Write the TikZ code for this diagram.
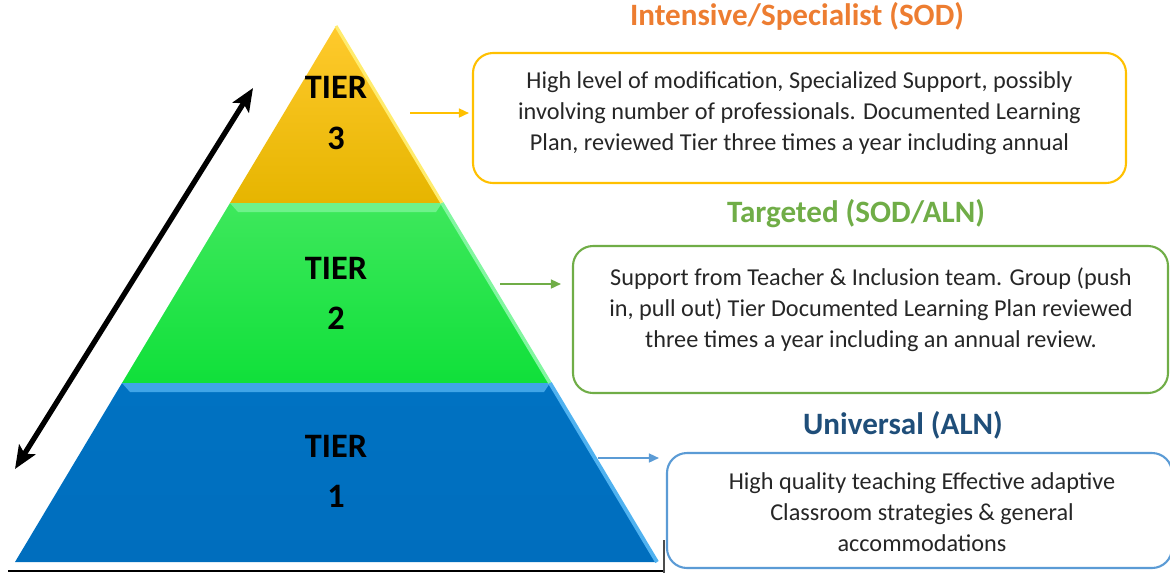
\documentclass[tikz,border=0pt]{standalone}
\usepackage{fontspec}
\setmainfont{Carlito}
\usetikzlibrary{arrows.meta}

\definecolor{goldtop}{RGB}{255,202,45}
\definecolor{goldbot}{RGB}{230,181,0}
\definecolor{goldedge}{RGB}{255,236,110}
\definecolor{goldline}{RGB}{255,192,0}
\definecolor{greentop}{RGB}{62,232,92}
\definecolor{greenbot}{RGB}{16,224,58}
\definecolor{greenedge}{RGB}{130,246,160}
\definecolor{greenline}{RGB}{112,173,71}
\definecolor{bluetop}{RGB}{0,114,194}
\definecolor{bluebot}{RGB}{0,110,190}
\definecolor{blueedge}{RGB}{80,178,240}
\definecolor{blueline}{RGB}{91,155,213}
\definecolor{headorange}{RGB}{237,125,49}
\definecolor{headblue}{RGB}{31,78,121}
\definecolor{baseline}{RGB}{140,28,50}

\tikzset{
  tierlabel/.style={font=\bfseries\fontsize{19.5}{28.5}\selectfont, align=center},
  headline/.style={font=\bfseries\fontsize{17.7}{20}\selectfont},
  desctext/.style={font=\fontsize{13.8}{17.6}\selectfont, align=center, text=black!85},
  descbox/.style={rectangle, rounded corners=4mm, line width=1.2pt},
  link/.style={-{Triangle[length=2mm,width=1.8mm]}, line width=0.9pt}
}

\begin{document}
\begin{tikzpicture}[x=0.2mm,y=-0.2mm]
    \useasboundingbox (0,0) rectangle (1170,573);

    \shade [top color=goldtop, bottom color=goldbot] (336,26) -- (442,203) -- (230,203) -- cycle;
    \shade [top color=greentop, bottom color=greenbot] (230,203) -- (442,203) -- (550,383) -- (122,383) -- cycle;
    \shade [top color=bluetop, bottom color=bluebot] (122,383) -- (550,383) -- (657,562) -- (15,562) -- cycle;

    \fill [greenedge!70!greentop] (230,203) -- (442,203) -- (436,212) -- (238,212) -- cycle;
    \fill [blueedge!80!bluetop] (122,383) -- (550,383) -- (544,392) -- (130,392) -- cycle;
    \draw [goldedge, line width=1.8pt] (336,26) -- (442,203);
    \draw [greenedge, line width=2pt] (442,203) -- (550,383);
    \draw [blueedge, line width=2.2pt] (550,383) -- (657,562);

    \draw [baseline, line width=0.9pt] (8,571) -- (664,571);
    \draw [black!70, line width=0.6pt] (664,540) -- (664,573);

    \node [tierlabel] (tier3) at (336,113) {TIER\\3};
    \node [tierlabel] (tier2) at (336,293) {TIER\\2};
    \node [tierlabel] (tier1) at (336,471.5) {TIER\\1};

    \coordinate (arrlow) at (15,469);
    \coordinate (arrhigh) at (253,88);
    \draw [{Stealth[length=4.6mm,width=3.8mm,inset=1mm]}-{Stealth[length=4.6mm,width=3.8mm,inset=1mm]}, line width=3pt] (arrlow) -- (arrhigh);

    \node [headline, text=headorange] (head3) at (797,16) {Intensive/Specialist (SOD)};
    \node [headline, text=greenline] (head2) at (856,214) {Targeted (SOD/ALN)};
    \node [headline, text=headblue] (head1) at (903,425) {Universal (ALN)};

    \node [descbox, draw=goldline, minimum width=130.6mm, minimum height=26mm] (box3) at (799.5,118) {};
    \node [descbox, draw=greenline, minimum width=119mm, minimum height=29.4mm] (box2) at (870.5,319.5) {};
    \node [descbox, draw=blueline, minimum width=101mm, minimum height=23mm] (box1) at (919.5,510.5) {};

    \node [desctext] (text3) at (799.5,113) {High level of modification, Specialized Support, possibly\\involving number of professionals. Documented Learning\\Plan, reviewed Tier three times a year including annual};
    \node [desctext] (text2) at (871,310) {Support from Teacher \& Inclusion team. Group (push\\in, pull out) Tier Documented Learning Plan reviewed\\three times a year including an annual review.};
    \node [desctext] (text1) at (922,512) {High quality teaching Effective adaptive\\Classroom strategies \& general\\accommodations};

    \coordinate (out3) at (410,113);
    \coordinate (out2) at (500,284);
    \coordinate (out1) at (598,458);
    \draw [link, goldline, shorten >=0.6mm] (out3) -- (out3 -| box3.west);
    \draw [link, greenline, shorten >=2.2mm] (out2) -- (out2 -| box2.west);
    \draw [link, blueline, shorten >=1.4mm] (out1) -- (out1 -| box1.west);
\end{tikzpicture}
\end{document}
